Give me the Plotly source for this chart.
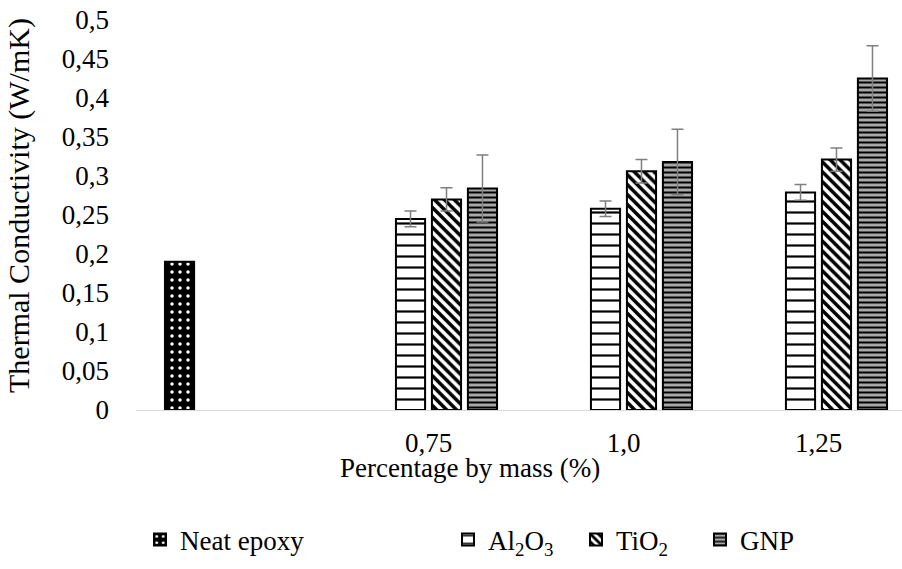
import plotly.graph_objects as go

# ---- data ----
categories = [" ", "0,75", "1,0", "1,25"]
filler_cats = ["0,75", "1,0", "1,25"]
neat_epoxy = [0.19]
al2o3 = [0.245, 0.258, 0.279]
al2o3_err = [0.010, 0.010, 0.010]
tio2 = [0.270, 0.306, 0.321]
tio2_err = [0.015, 0.015, 0.015]
gnp = [0.284, 0.318, 0.425]
gnp_err = [0.043, 0.042, 0.042]
series_names = ["Neat epoxy", "Al<sub>2</sub>O<sub>3</sub>", "TiO<sub>2</sub>", "GNP"]
y_ticks = [0, 0.05, 0.1, 0.15, 0.2, 0.25, 0.3, 0.35, 0.4, 0.45, 0.5]

FONT = "'Liberation Serif', 'Times New Roman', serif"
FS = 27
ERR_COLOR = "#7f7f7f"

# plot-area pixel geometry (for paper conversions)
W, H = 902, 569
ML, MR, MT, MB = 136, 0, 20, 159
PW = W - ML - MR
PH = H - MT - MB


def px_x(px):
    return (px - ML) / PW


def px_y(py):
    return (H - MB - py) / PH


line = dict(color="black", width=2)

fig = go.Figure()
fig.add_trace(go.Bar(
    x=[categories[0]], y=neat_epoxy, name=series_names[0], legend="legend",
    showlegend=True,
    marker=dict(color="black", line=line,
                pattern=dict(shape=".", fillmode="replace", bgcolor="black",
                             fgcolor="white", size=8, solidity=0.15)),
))
fig.add_trace(go.Bar(
    x=filler_cats, y=al2o3, name=series_names[1], legend="legend2",
    showlegend=True,
    error_y=dict(type="data", array=al2o3_err, color=ERR_COLOR, thickness=1.5, width=6),
    marker=dict(color="white", line=line,
                pattern=dict(shape="-", fillmode="replace", bgcolor="white",
                             fgcolor="black", size=11, solidity=0.2)),
))
fig.add_trace(go.Bar(
    x=filler_cats, y=tio2, name=series_names[2], legend="legend3",
    showlegend=True,
    error_y=dict(type="data", array=tio2_err, color=ERR_COLOR, thickness=1.5, width=6),
    marker=dict(color="white", line=line,
                pattern=dict(shape="\\", fillmode="replace", bgcolor="white",
                             fgcolor="black", size=7, solidity=0.5)),
))
fig.add_trace(go.Bar(
    x=filler_cats, y=gnp, name=series_names[3], legend="legend4",
    showlegend=True,
    error_y=dict(type="data", array=gnp_err, color=ERR_COLOR, thickness=1.5, width=6),
    marker=dict(color="#a8a8a8", line=line,
                pattern=dict(shape="-", fillmode="replace", bgcolor="#a8a8a8",
                             fgcolor="black", size=5, solidity=0.4)),
))

leg_y = px_y(540)
leg_common = dict(orientation="h", yanchor="middle", y=leg_y, xanchor="left",
                  font=dict(family=FONT, size=FS, color="black"),
                  bgcolor="rgba(0,0,0,0)", borderwidth=0)

fig.update_layout(
    width=W, height=H,
    margin=dict(l=ML, r=MR, t=MT, b=MB),
    paper_bgcolor="white", plot_bgcolor="white",
    separators=",.",
    showlegend=True,
    barmode="group", bargap=0.262, bargroupgap=0.19,
    font=dict(family=FONT, size=FS, color="black"),
    legend=dict(leg_common, x=px_x(140)),
    legend2=dict(leg_common, x=px_x(448)),
    legend3=dict(leg_common, x=px_x(576)),
    legend4=dict(leg_common, x=px_x(700)),
    xaxis=dict(type="category", categoryorder="array", categoryarray=categories,
               range=[-0.5, -0.5 + PW / 195.0],
               showline=True, linecolor="#d9d9d9", linewidth=1,
               showgrid=False, zeroline=False, ticks="",
               tickfont=dict(family=FONT, size=FS, color="black"),
               ticklabelstandoff=9),
    yaxis=dict(range=[0, 0.5], tickvals=y_ticks,
               showline=False, showgrid=False, zeroline=False, ticks="",
               tickfont=dict(family=FONT, size=FS, color="black"),
               ticklabelstandoff=26),
    annotations=[
        dict(text="Thermal Conductivity (W/mK)", textangle=-90,
             xref="paper", yref="paper", x=px_x(19), y=px_y(206),
             xanchor="center", yanchor="middle", showarrow=False,
             font=dict(family=FONT, size=30, color="black")),
        dict(text="Percentage by mass (%)",
             xref="paper", yref="paper", x=px_x(470), y=px_y(468),
             xanchor="center", yanchor="middle", showarrow=False,
             font=dict(family=FONT, size=FS, color="black")),
    ],
)

fig.write_html("out.html")
